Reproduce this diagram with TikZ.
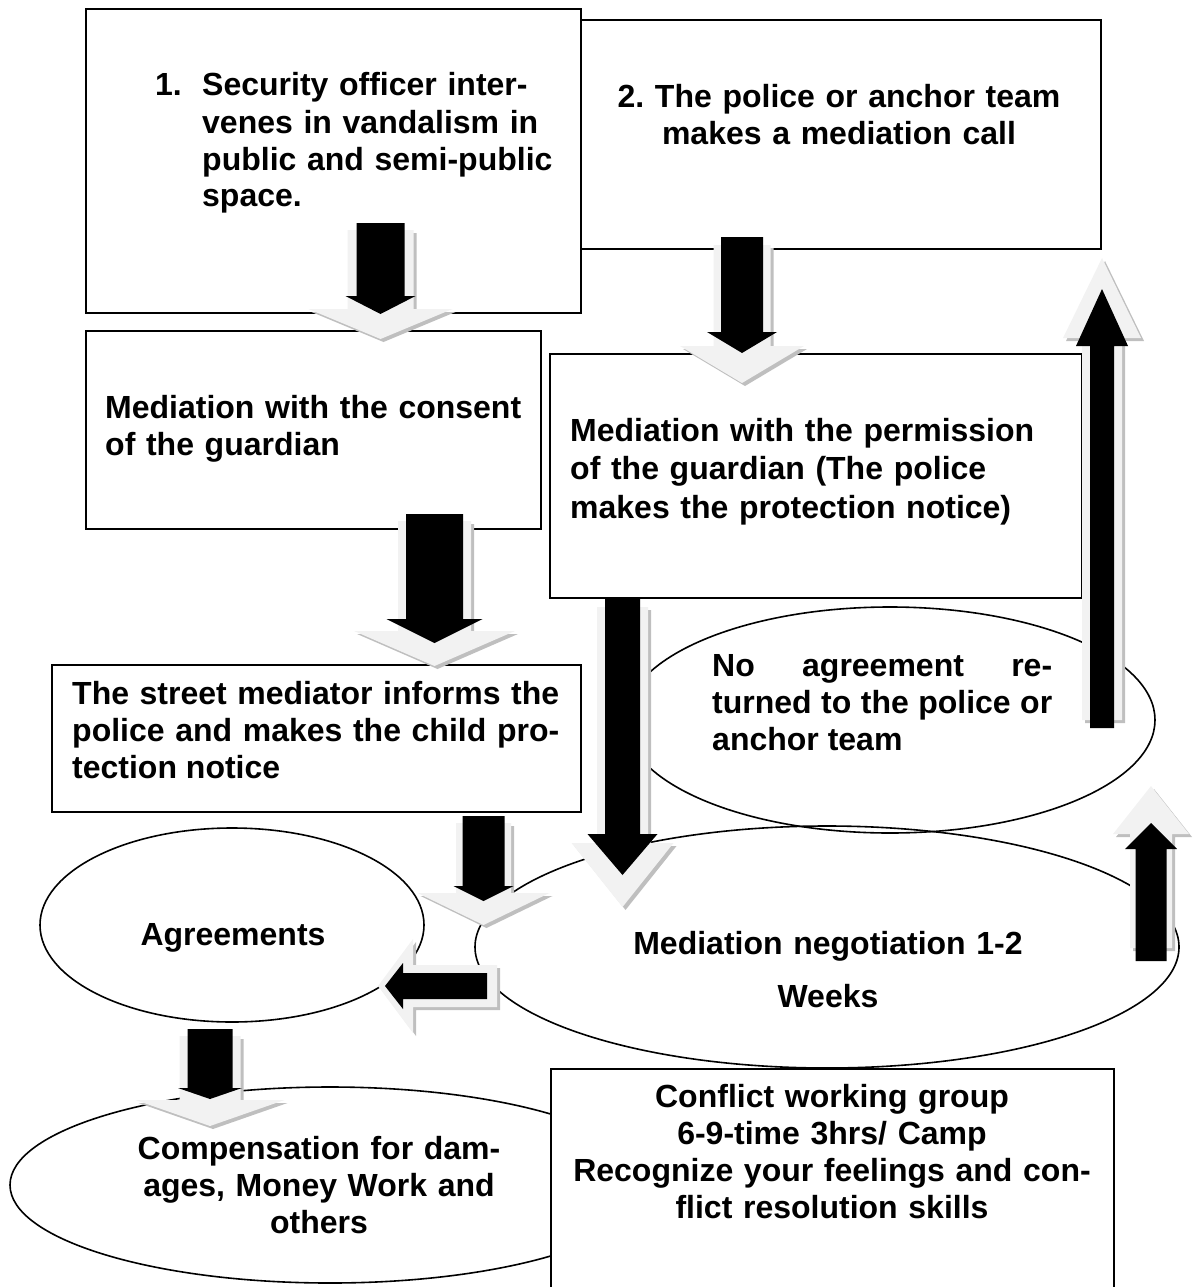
\documentclass[tikz,border=0pt]{standalone}
\usepackage{fontspec}
\setmainfont{Liberation Sans}
\frenchspacing
\usetikzlibrary{positioning,shapes.geometric}
\definecolor{rimgrey}{HTML}{F2F2F2}
\definecolor{shadegrey}{HTML}{BFBFBF}
\tikzset{
  box/.style={draw, line width=1.6pt, fill=white, inner sep=0pt},
  oval/.style={draw, ellipse, line width=1.6pt, inner sep=0pt},
  txt/.style={inner sep=0pt, font=\fontsize{32}{37}\selectfont\bfseries},
  arrowshade/.style={fill=shadegrey},
  arrowrim/.style={fill=rimgrey},
  arrowcore/.style={fill=black},
}
% block arrow: [scope opts]{style}{start}{angle}{length}{body half}{head half}{head length}
\newcommand{\blockarrow}[8][]{%
  \begin{scope}[shift={#3},#1,rotate=#4]
    \path[#2] (0,-#6) -- ({#5-#8},-#6) -- ({#5-#8},-#7) -- (#5,0) -- ({#5-#8},#7) -- ({#5-#8},#6) -- (0,#6) -- cycle;
  \end{scope}}
% light rim with its shadow
\newcommand{\rimarrow}[6]{%
  \blockarrow[shift={(3,3)}]{arrowshade}{#1}{#2}{#3}{#4}{#5}{#6}%
  \blockarrow{arrowrim}{#1}{#2}{#3}{#4}{#5}{#6}}
\begin{document}
\begin{tikzpicture}[x=1pt,y=1pt,yscale=-1]
\useasboundingbox (0,0) rectangle (1193,1287);

% boxes
\node[box, anchor=north west, minimum width=495, minimum height=304] (box1) at (85,8) {};
\node[box, anchor=north west, minimum width=520, minimum height=229] (box2) at (580,19) {};
\node[box, anchor=north west, minimum width=455, minimum height=198] (box3) at (85,330) {};
\node[box, anchor=north west, minimum width=532, minimum height=244] (box4) at (549,353) {};
\node[box, anchor=north west, minimum width=529, minimum height=147] (box5) at (51,664) {};

% ellipses
\node[oval, minimum width=384, minimum height=194] (agree) at (232,925) {};
\node[oval, minimum width=640, minimum height=196] (comp) at (330,1185) {};
\node[oval, minimum width=530, minimum height=226] (noagree) at (890,720) {};
\node[oval, minimum width=704, minimum height=242] (nego) at (827,947) {};
\node[box, anchor=north west, minimum width=563, minimum height=230] (conflict) at (550,1068) {};

% texts
\node[txt, anchor=base west] (num1) at (155,96) {1.};
\node[txt, anchor=base west, text width=380, align=left] (t1) at (202,96) {Security officer inter-\\venes in vandalism in\\public and semi-public\\space.};
\node[txt, anchor=base, text width=500, align=center] (t2) at (839,108) {2. The police or anchor team\\makes a mediation call};
\node[txt, anchor=base west, text width=430, align=left] (t3) at (105,418) {Mediation with the consent\\of the guardian};
\node[txt, anchor=base west, text width=500, align=left, font=\fontsize{32}{38.5}\selectfont\bfseries] (t4) at (570,441) {Mediation with the permission\\of the guardian (The police\\makes the protection notice)};
\node[txt, anchor=base west, text width=487, align=justify] (t5) at (72,704) {The street mediator informs the\linebreak police and makes the child pro-\linebreak tection notice};
\node[txt, anchor=base west, text width=340, align=justify] (t6) at (712,676) {No agreement re-\linebreak turned to the police or\linebreak anchor team};
\node[txt, anchor=base, text width=500, align=center] (t7) at (828,954) {Mediation negotiation 1-2\\[16pt]Weeks};
\node[txt, anchor=base] (t8) at (233,945) {Agreements};
\node[txt, anchor=base, text width=420, align=center] (t9) at (319,1159) {Compensation for dam-\\ages, Money Work and\\others};
\node[txt, anchor=base, text width=560, align=center] (t10) at (832,1107) {Conflict working group\\6-9-time 3hrs/ Camp\\Recognize your feelings and con-\\flict resolution skills};

% arrow starts
\coordinate (a1) at (380.5,230);
\coordinate (a2) at (742,245);
\coordinate (a3) at (434.5,521);
\coordinate (a4) at (622.5,607);
\coordinate (a5) at (483.5,823);
\coordinate (a6) at (497,986);
\coordinate (a7) at (210,1036);
\coordinate (a8) at (1102,720);
\coordinate (a9) at (1151,948);

% box1 -> box3
\rimarrow{(a1)}{90}{109}{33}{72}{30}
\blockarrow{arrowcore}{([yshift=-7]a1)}{90}{91}{24}{35}{18}
% box2 -> box4
\rimarrow{(a2)}{90}{138}{28.5}{62}{37}
\blockarrow{arrowcore}{([yshift=-8]a2)}{90}{116}{21}{35}{21}
% box3 -> box5
\rimarrow{(a3)}{90}{145}{36.5}{80.5}{35}
\blockarrow{arrowcore}{([yshift=-7]a3)}{90}{129}{28.5}{48}{24}
% box4 -> nego
\rimarrow{(a4)}{90}{300}{25.5}{51}{64}
\blockarrow{arrowcore}{([yshift=-8]a4)}{90}{276}{17.5}{35}{41}
% box5 -> nego
\rimarrow{(a5)}{90}{102}{27.5}{66}{32}
\blockarrow{arrowcore}{([yshift=-7]a5)}{90}{85}{21}{30}{15}
% nego -> agree
\rimarrow{(a6)}{180}{119}{21}{47}{35}
\blockarrow{arrowcore}{([xshift=-10]a6)}{180}{102}{13}{23}{18}
% agree -> comp
\rimarrow{(a7)}{90}{90}{30.5}{74.5}{26}
\blockarrow{arrowcore}{([yshift=-7]a7)}{90}{70}{22.5}{32}{11}
% noagree -> box2
\rimarrow{(a8)}{-90}{462}{20}{39}{80}
\blockarrow{arrowcore}{([yshift=8]a8)}{-90}{439}{12}{26}{57}
% nego -> noagree
\rimarrow{(a9)}{-90}{162}{21}{38}{48}
\blockarrow{arrowcore}{([yshift=13]a9)}{-90}{138}{15.5}{26}{26}

\end{tikzpicture}
\end{document}
